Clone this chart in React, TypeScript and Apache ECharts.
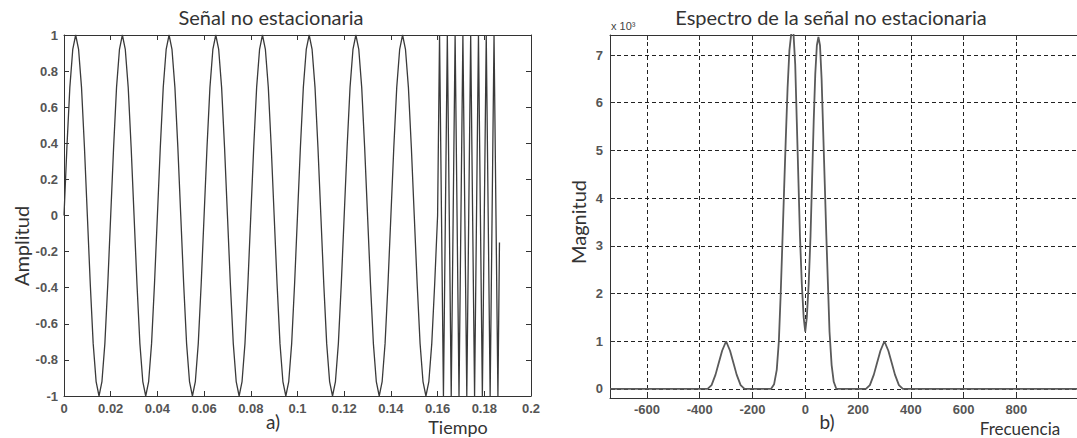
import React, { useEffect, useRef } from "react";
import * as echarts from "echarts";

// ---- Señal no estacionaria (panel a) ----
// 50 Hz portion, sampled every PASO_50 seconds from t = 0 to t = 0.16
const PASO_50 = 0.00125;
const AMPLITUD_50HZ = [
  0, 0.38, 0.71, 0.92, 1, 0.92, 0.71, 0.38, 0, -0.38, -0.71, -0.92, -1, -0.92, -0.71, -0.38,
  0, 0.38, 0.71, 0.92, 1, 0.92, 0.71, 0.38, 0, -0.38, -0.71, -0.92, -1, -0.92, -0.71, -0.38,
  0, 0.38, 0.71, 0.92, 1, 0.92, 0.71, 0.38, 0, -0.38, -0.71, -0.92, -1, -0.92, -0.71, -0.38,
  0, 0.38, 0.71, 0.92, 1, 0.92, 0.71, 0.38, 0, -0.38, -0.71, -0.92, -1, -0.92, -0.71, -0.38,
  0, 0.38, 0.71, 0.92, 1, 0.92, 0.71, 0.38, 0, -0.38, -0.71, -0.92, -1, -0.92, -0.71, -0.38,
  0, 0.38, 0.71, 0.92, 1, 0.92, 0.71, 0.38, 0, -0.38, -0.71, -0.92, -1, -0.92, -0.71, -0.38,
  0, 0.38, 0.71, 0.92, 1, 0.92, 0.71, 0.38, 0, -0.38, -0.71, -0.92, -1, -0.92, -0.71, -0.38,
  0, 0.38, 0.71, 0.92, 1, 0.92, 0.71, 0.38, 0, -0.38, -0.71, -0.92, -1, -0.92, -0.71, -0.38,
];
// 300 Hz burst, sampled every PASO_300 seconds starting at t = 0.16
const INICIO_300 = 0.16;
const PASO_300 = 1 / 1200;
const AMPLITUD_300HZ = [
  0, 1, 0, -1, 0, 1, 0, -1, 0, 1, 0, -1, 0, 1, 0, -1,
  0, 1, 0, -1, 0, 1, 0, -1, 0, 1, 0, -1, 0, 1, 0, -1,
];
const FIN_SENAL: [number, number] = [0.1865, -0.15];

// ---- Espectro (panel b), magnitude in units of 10^3 ----
const FRECUENCIA = [
  -740, -370, -355, -340, -330, -315, -300, -285, -270, -260, -245, -230,
  -130, -118, -108, -100, -93, -87, -80, -74, -67, -60, -52, -45, -38, -32, -26, -20, -13, -6,
  0, 6, 13, 20, 26, 32, 38, 44, 50, 56, 62, 68, 74, 80, 86, 92, 100, 108, 118,
  230, 245, 260, 270, 285, 300, 315, 330, 340, 355, 370, 1030,
];
const MAGNITUD = [
  0, 0, 0.08, 0.3, 0.5, 0.8, 1.0, 0.8, 0.5, 0.3, 0.08, 0,
  0, 0.1, 0.4, 1.0, 2.0, 3.0, 4.2, 5.2, 6.3, 7.1, 7.5, 7.5, 6.8, 5.6, 4.4, 3.2, 2.2, 1.5,
  1.2, 1.5, 2.2, 3.2, 4.4, 5.6, 6.6, 7.2, 7.38, 7.2, 6.5, 5.4, 4.3, 3.2, 2.2, 1.2, 0.5, 0.15, 0,
  0, 0.08, 0.3, 0.5, 0.8, 1.0, 0.8, 0.5, 0.3, 0.08, 0, 0,
];
const FREC_TICKS = [-600, -400, -200, 0, 200, 400, 600, 800];
const MAG_TICKS = [0, 1, 2, 3, 4, 5, 6, 7];

const fmt = (v: number) => String(parseFloat(Number(v).toFixed(3)));

export default function App() {
  const ref = useRef<HTMLDivElement>(null);
  useEffect(() => {
    if (!ref.current) return;
    const chart = echarts.init(ref.current, undefined, { renderer: "svg" });

    const senal: [number, number][] = [];
    AMPLITUD_50HZ.forEach((a, i) => senal.push([i * PASO_50, a]));
    AMPLITUD_300HZ.forEach((a, i) => senal.push([INICIO_300 + i * PASO_300, a]));
    senal.push(FIN_SENAL);

    const espectro = FRECUENCIA.map((f, i) => [f, MAGNITUD[i]]);

    const labelFont = {
      fontFamily: "Liberation Sans",
      fontSize: 13,
      fontWeight: "bold" as const,
      color: "#555",
    };
    const axisLine = { show: true, onZero: false, lineStyle: { color: "#333", width: 1 } };
    const tickIn = { show: true, inside: true, length: 5, lineStyle: { color: "#333" } };
    const dashed = { show: true, lineStyle: { color: "#222", type: [4, 3] as any, width: 1 } };

    const textEl = (text: string, x: number, y: number, size: number, extra: any = {}) => ({
      type: "text",
      x,
      y,
      ...extra,
      style: {
        text,
        fontFamily: "Lato",
        fontSize: size,
        fill: "#333",
        textAlign: "center",
        textVerticalAlign: "middle",
        ...(extra.style || {}),
      },
    });

    chart.setOption({
      animation: false,
      backgroundColor: "#ffffff",
      grid: [
        { left: 64, top: 35, width: 467, height: 361 },
        { left: 610, top: 35, width: 515, height: 363 },
      ],
      xAxis: [
        {
          gridIndex: 0, type: "value", min: 0, max: 0.2, interval: 0.02, position: "bottom",
          axisLine, axisTick: tickIn, splitLine: { show: false },
          axisLabel: { ...labelFont, margin: 6, formatter: fmt },
        },
        {
          gridIndex: 0, type: "value", min: 0, max: 0.2, interval: 0.02, position: "top",
          axisLine, axisTick: tickIn, splitLine: { show: false }, axisLabel: { show: false },
        },
        {
          gridIndex: 1, type: "value", min: -740, max: 1030, position: "bottom",
          axisLine,
          axisTick: { ...tickIn, customValues: FREC_TICKS },
          axisLabel: { ...labelFont, margin: 5, customValues: FREC_TICKS, formatter: fmt },
          splitLine: dashed,
        },
        {
          gridIndex: 1, type: "value", min: -740, max: 1030, position: "top",
          axisLine,
          axisTick: { ...tickIn, customValues: FREC_TICKS },
          axisLabel: { show: false, customValues: FREC_TICKS },
          splitLine: { show: false },
        },
      ],
      yAxis: [
        {
          gridIndex: 0, type: "value", min: -1, max: 1, interval: 0.2, position: "left",
          axisLine, axisTick: tickIn, splitLine: { show: false },
          axisLabel: { ...labelFont, margin: 6, formatter: fmt },
        },
        {
          gridIndex: 0, type: "value", min: -1, max: 1, interval: 0.2, position: "right",
          axisLine, axisTick: tickIn, splitLine: { show: false }, axisLabel: { show: false },
        },
        {
          gridIndex: 1, type: "value", min: -0.19, max: 7.42, position: "left",
          axisLine,
          axisTick: { ...tickIn, customValues: MAG_TICKS },
          axisLabel: { ...labelFont, margin: 7, customValues: MAG_TICKS, formatter: fmt },
          splitLine: dashed,
        },
      ],
      series: [
        {
          type: "line", xAxisIndex: 0, yAxisIndex: 0, data: senal, showSymbol: false,
          lineStyle: { color: "#3a3a3a", width: 1.3 }, clip: true,
        },
        {
          type: "line", xAxisIndex: 2, yAxisIndex: 2, data: espectro, showSymbol: false,
          lineStyle: { color: "#5a5a5a", width: 1.8 }, clip: true,
        },
      ],
      graphic: [
        textEl("Señal no estacionaria", 271, 17, 20),
        textEl("Espectro de la señal no estacionaria", 831, 17, 20),
        textEl("Amplitud", 21, 246, 20, { rotation: Math.PI / 2 }),
        textEl("Magnitud", 578, 222, 20, { rotation: Math.PI / 2 }),
        textEl("a)", 273, 421, 19),
        textEl("Tiempo", 458, 427, 18),
        textEl("b)", 827, 421, 19),
        textEl("Frecuencia", 1020, 428, 17),
        textEl("x 10³", 611, 26, 11, {
          style: { textAlign: "left", fontFamily: "Liberation Sans", fill: "#444" },
        }),
      ],
    });
    return () => chart.dispose();
  }, []);
  return (
    <div
      ref={ref}
      style={{ position: "fixed", left: 0, top: 0, width: 1077, height: 438, background: "#fff" }}
    />
  );
}
